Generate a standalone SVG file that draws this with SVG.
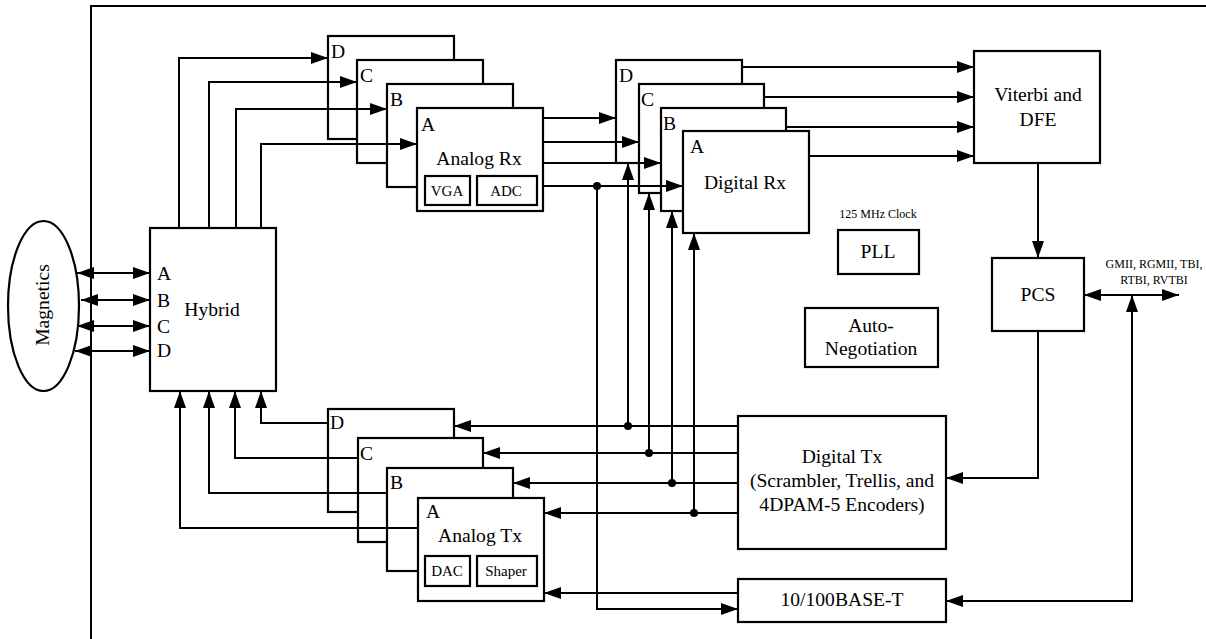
<svg xmlns="http://www.w3.org/2000/svg" width="1206" height="639" viewBox="0 0 1206 639">
<style>
.box{fill:#fff;stroke:#000;stroke-width:2.2}
.w{fill:none;stroke:#000;stroke-width:2}
.t{font-family:"Liberation Serif","Times New Roman",serif;font-size:19.6px;fill:#000}
.m{text-anchor:middle}
.s{font-size:15px}
.xs{font-size:12px}
</style>
<defs>
<marker id="ah" markerWidth="17" markerHeight="12" refX="17" refY="6" orient="auto-start-reverse" markerUnits="userSpaceOnUse"><path d="M0,0 L17,6 L0,12 z" fill="#000"/></marker>
</defs>
<rect width="1206" height="639" fill="#fff"/>
<path class="w" d="M1206,6 H91 V639"/>

<g id="magnetics"><ellipse cx="43.5" cy="306" rx="35.5" ry="85" class="box"/><text class="t m" transform="translate(49,305) rotate(-90)">Magnetics</text></g>
<g id="hybrid"><rect class="box" x="150" y="228" width="126" height="163"/>
<text class="t" x="157" y="280">A</text><text class="t" x="157" y="307">B</text><text class="t" x="157" y="333">C</text><text class="t" x="157" y="357">D</text>
<text class="t m" x="212" y="316">Hybrid</text></g>

<g id="analog-rx">
<rect class="box" x="328" y="36" width="126" height="103"/><text class="t" x="331" y="58">D</text>
<rect class="box" x="357" y="60" width="126" height="103"/><text class="t" x="360" y="82">C</text>
<rect class="box" x="387" y="84" width="126" height="103"/><text class="t" x="390" y="106">B</text>
<rect class="box" x="417" y="108" width="126" height="103"/><text class="t" x="421" y="131">A</text>
<text class="t m" x="479" y="165">Analog Rx</text>
<rect class="box" x="425" y="176" width="45" height="29"/><text class="t s m" x="447" y="196">VGA</text>
<rect class="box" x="477" y="176" width="60" height="29"/><text class="t s m" x="506" y="196">ADC</text>
</g>

<g id="digital-rx">
<rect class="box" x="616" y="60" width="126" height="103"/><text class="t" x="619" y="82">D</text>
<rect class="box" x="639" y="84" width="125" height="109"/><text class="t" x="641" y="106">C</text>
<rect class="box" x="661" y="108" width="125" height="103"/><text class="t" x="663" y="130">B</text>
<rect class="box" x="683" y="131" width="126" height="102"/><text class="t" x="690" y="153">A</text>
<text class="t m" x="745" y="189">Digital Rx</text>
</g>

<g id="viterbi"><rect class="box" x="974" y="51" width="126" height="112"/><text class="t m" x="1038" y="101">Viterbi and</text><text class="t m" x="1038" y="126">DFE</text></g>
<g id="pll"><text class="t xs m" x="878" y="218">125 MHz Clock</text><rect class="box" x="838" y="230" width="81" height="44"/><text class="t m" x="878" y="258">PLL</text></g>
<g id="autoneg"><rect class="box" x="805" y="308" width="133" height="59"/><text class="t m" x="871" y="332">Auto-</text><text class="t m" x="871" y="355">Negotiation</text></g>
<g id="pcs"><rect class="box" x="992" y="258" width="92" height="73"/><text class="t m" x="1038" y="301">PCS</text>
<text class="t xs m" x="1154" y="268">GMII, RGMII, TBI,</text><text class="t xs m" x="1154" y="284">RTBI, RVTBI</text></g>

<g id="digital-tx"><rect class="box" x="738" y="416" width="208" height="133"/>
<text class="t m" x="842" y="463">Digital Tx</text><text class="t m" x="842" y="487">(Scrambler, Trellis, and</text><text class="t m" x="842" y="511">4DPAM-5 Encoders)</text></g>
<g id="base-t"><rect class="box" x="738" y="579" width="208" height="43"/><text class="t m" x="842" y="606">10/100BASE-T</text></g>

<g id="analog-tx">
<rect class="box" x="328" y="409" width="126" height="103"/><text class="t" x="330" y="429">D</text>
<rect class="box" x="358" y="438" width="125" height="104"/><text class="t" x="360" y="460">C</text>
<rect class="box" x="387" y="468" width="126" height="103"/><text class="t" x="390" y="489">B</text>
<rect class="box" x="418" y="498" width="126" height="103"/><text class="t" x="426" y="518">A</text>
<text class="t m" x="480" y="542">Analog Tx</text>
<rect class="box" x="425" y="556" width="45" height="30"/><text class="t s m" x="447" y="576">DAC</text>
<rect class="box" x="477" y="556" width="60" height="30"/><text class="t s m" x="506" y="576">Shaper</text>
</g>

<g id="connectors" class="w">
<path d="M77,273 H150" marker-start="url(#ah)" marker-end="url(#ah)"/>
<path d="M81,300 H150" marker-start="url(#ah)" marker-end="url(#ah)"/>
<path d="M77,326 H150" marker-start="url(#ah)" marker-end="url(#ah)"/>
<path d="M75,351 H150" marker-start="url(#ah)" marker-end="url(#ah)"/>
<path d="M179,228 V58 H328" marker-end="url(#ah)"/>
<path d="M209,228 V82 H357" marker-end="url(#ah)"/>
<path d="M236,228 V109 H387" marker-end="url(#ah)"/>
<path d="M261,228 V144 H417" marker-end="url(#ah)"/>
<path d="M543,118 H616" marker-end="url(#ah)"/>
<path d="M543,142 H639" marker-end="url(#ah)"/>
<path d="M543,163 H661" marker-end="url(#ah)"/>
<path d="M543,186 H683" marker-end="url(#ah)"/>
<path d="M742,67 H974" marker-end="url(#ah)"/>
<path d="M764,97 H974" marker-end="url(#ah)"/>
<path d="M786,127 H974" marker-end="url(#ah)"/>
<path d="M809,156 H974" marker-end="url(#ah)"/>
<path d="M1038,163 V258" marker-end="url(#ah)"/>
<path d="M1038,331 V478 H946" marker-end="url(#ah)"/>
<path d="M1084,295 H1179" marker-start="url(#ah)" marker-end="url(#ah)"/>
<path d="M1132,295 V601 H946" marker-start="url(#ah)" marker-end="url(#ah)"/>
<path d="M738,426 H454" marker-end="url(#ah)"/>
<path d="M738,453 H483" marker-end="url(#ah)"/>
<path d="M738,483 H513" marker-end="url(#ah)"/>
<path d="M738,513 H544" marker-end="url(#ah)"/>
<path d="M628,426 V163" marker-end="url(#ah)"/>
<path d="M649,453 V193" marker-end="url(#ah)"/>
<path d="M672,483 V211" marker-end="url(#ah)"/>
<path d="M694,513 V233" marker-end="url(#ah)"/>
<path d="M738,593 H544" marker-end="url(#ah)"/>
<path d="M597,186 V609 H738" marker-end="url(#ah)"/>
<path d="M328,423 H261 V391" marker-end="url(#ah)"/>
<path d="M358,458 H235 V391" marker-end="url(#ah)"/>
<path d="M387,493 H209 V391" marker-end="url(#ah)"/>
<path d="M418,528 H180 V391" marker-end="url(#ah)"/>
<g fill="#000" stroke="none">
<circle cx="597" cy="186" r="4"/><circle cx="628" cy="426" r="4"/><circle cx="649" cy="453" r="4"/><circle cx="672" cy="483" r="4"/><circle cx="694" cy="513" r="4"/>
</g>
</g>
</svg>
